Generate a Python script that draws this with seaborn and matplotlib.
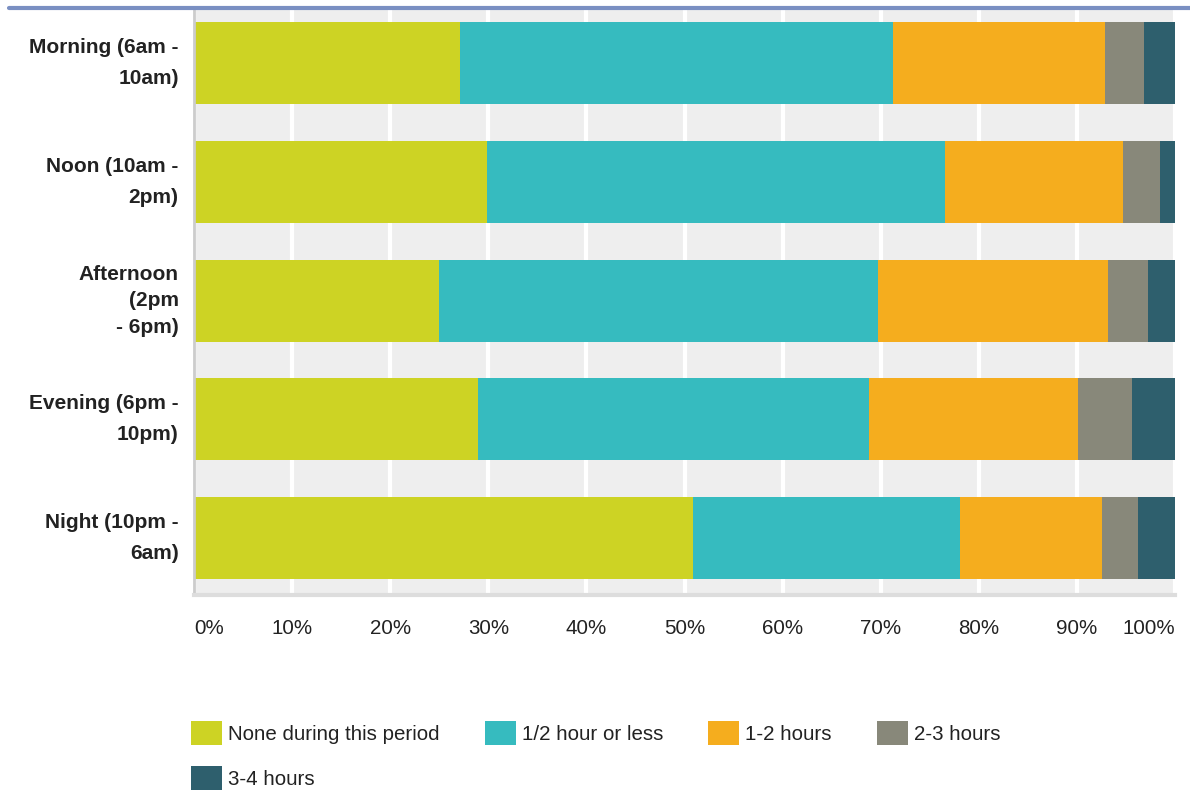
import matplotlib
matplotlib.use("Agg")
import matplotlib.pyplot as plt
from matplotlib.lines import Line2D
from matplotlib.patches import Patch
import seaborn as sns
import numpy as np
import pandas as pd

categories = ["Morning (6am -\n10am)", "Noon (10am -\n2pm)", "Afternoon\n(2pm\n- 6pm)",
              "Evening (6pm -\n10pm)", "Night (10pm -\n6am)"]
series = ["None during this period", "1/2 hour or less", "1-2 hours", "2-3 hours", "3-4 hours"]
none_vals = [27.1, 29.9, 25.0, 29.0, 50.9]
half_vals = [44.2, 46.7, 44.7, 39.8, 27.2]
one_two_vals = [21.6, 18.1, 23.5, 21.3, 14.5]
two_three_vals = [3.9, 3.8, 4.0, 5.5, 3.6]
three_four_vals = [3.2, 1.5, 2.8, 4.4, 3.8]
colors = ["#cdd324", "#36bbbf", "#f5ad1e", "#88887a", "#2e5f6d"]
xticks = [0, 10, 20, 30, 40, 50, 60, 70, 80, 90, 100]
xtick_labels = [f"{v}%" for v in xticks]

sns.set_style("white")
plt.rcParams["font.family"] = ["Liberation Sans", "DejaVu Sans"]

vals = np.array([none_vals, half_vals, one_two_vals, two_three_vals, three_four_vals])
cum = np.cumsum(vals, axis=0)

fig = plt.figure(figsize=(11.9, 8), dpi=100)
ax = fig.add_axes([194 / 1190, 1 - 595 / 800, (1175 - 194) / 1190, (595 - 10) / 800])
ax.set_facecolor("#eeeeee")

for i in reversed(range(len(series))):
    df = pd.DataFrame({"cat": categories, "val": cum[i]})
    sns.barplot(data=df, x="val", y="cat", color=colors[i], orient="h", width=0.69,
                saturation=1, linewidth=0, ax=ax, errorbar=None)

ax.set_xlim(0, 100)
ax.set_ylim(4.48, -0.45)
ax.set_xlabel("")
ax.set_ylabel("")
ax.xaxis.grid(True, color="white", lw=3)
ax.yaxis.grid(False)
ax.set_axisbelow(True)

for s in ["top", "right"]:
    ax.spines[s].set_visible(False)
ax.spines["left"].set_color("#cccccc")
ax.spines["left"].set_linewidth(2)
ax.spines["bottom"].set_color("#dddddd")
ax.spines["bottom"].set_linewidth(3)

ax.set_xticks(xticks)
ax.set_xticklabels(xtick_labels, fontsize=14.8, color="#222222")
ax.tick_params(axis="x", length=0, pad=17)
tl = ax.get_xticklabels()
tl[0].set_ha("left")
tl[-1].set_ha("right")

ax.set_yticks(range(len(categories)))
ax.set_yticklabels(categories, fontsize=15, fontweight="bold", color="#222222")
ax.tick_params(axis="y", length=0, pad=11)
for i, t in enumerate(ax.get_yticklabels()):
    t.set_ha("right")
    t.set_va("center")
    t.set_multialignment("right")
    t.set_linespacing(1.5 if i == 2 else 1.8)

# top blue rule
fig.add_artist(Line2D([9 / 1190, 1.0], [1 - 8 / 800, 1 - 8 / 800], color="#7a8fc2", lw=3,
                      transform=fig.transFigure))

handles = [Patch(facecolor=c, edgecolor="none", label=s) for c, s in zip(colors, series)]
order = [0, 4, 1, 2, 3]
fig.legend(handles=[handles[k] for k in order], loc="upper left",
           bbox_to_anchor=(191 / 1190, 1 - 721 / 800),
           ncol=4, frameon=False, fontsize=14.8, handlelength=1.5, handleheight=1.4,
           handletextpad=0.3, columnspacing=2.2, labelspacing=1.05, borderpad=0,
           borderaxespad=0, labelcolor="#222222")

fig.savefig("out.png", dpi=100)
